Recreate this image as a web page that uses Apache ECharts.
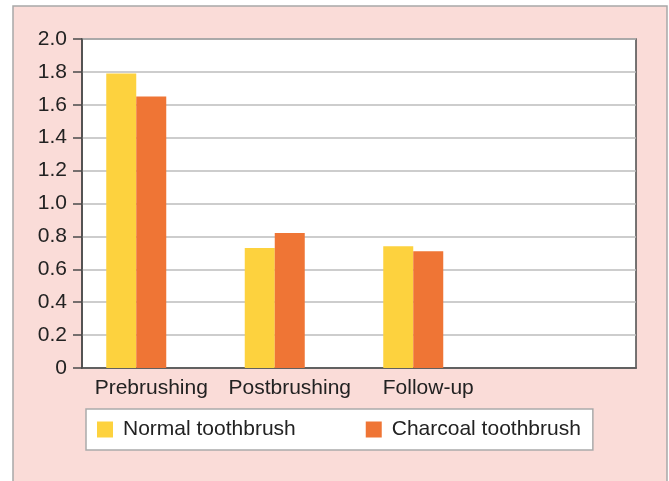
<!DOCTYPE html>
<html>
<head>
<meta charset="utf-8">
<script src="https://cdn.jsdelivr.net/npm/echarts@6/dist/echarts.min.js"></script>
<style>
  html, body { margin: 0; padding: 0; background: #fff; }
  #main { width: 669px; height: 481px; }
</style>
</head>
<body>
<div id="main"></div>
<script>
var categories = ["Prebrushing", "Postbrushing", "Follow-up", ""];
var normalBrush = [1.79, 0.73, 0.74, null];
var charcoalBrush = [1.65, 0.82, 0.71, null];
var spacer = [null, null, null, null]; // empty third slot, like the original spreadsheet chart

var myChart = echarts.init(document.getElementById("main"));
var font = "Liberation Sans, Arial, sans-serif";

var option = {
  backgroundColor: "#fff",
  animation: false,
  graphic: [
    {
      type: "rect",
      z: -10,
      shape: { x: 13, y: 6, width: 654, height: 490 },
      style: { fill: "#fadcd8", stroke: "#a8a8a8", lineWidth: 1.5 }
    }
  ],
  grid: {
    left: 82,
    right: 33,
    top: 39,
    bottom: 113,
    show: true,
    backgroundColor: "#fff",
    borderColor: "#4a4a4a",
    borderWidth: 1.5
  },
  legend: {
    data: ["Normal toothbrush", "Charcoal toothbrush"],
    left: 86,
    top: 409,
    backgroundColor: "#fff",
    borderColor: "#aaa",
    borderWidth: 1.5,
    borderRadius: 0,
    padding: [10, 12, 10, 11],
    itemWidth: 16,
    itemHeight: 16,
    itemGap: 70,
    icon: "rect",
    textStyle: {
      fontFamily: font,
      fontSize: 21,
      color: "#222",
      padding: [0, 0, 0, 5]
    }
  },
  xAxis: {
    type: "category",
    data: categories,
    axisLine: { lineStyle: { color: "#4a4a4a", width: 1.5 } },
    axisTick: { show: false },
    axisLabel: {
      interval: 0,
      fontFamily: font,
      fontSize: 21,
      color: "#222",
      margin: 10
    }
  },
  yAxis: {
    type: "value",
    min: 0,
    max: 2,
    interval: 0.2,
    axisLine: { show: true, lineStyle: { color: "#4a4a4a", width: 1.5 } },
    axisTick: { show: true, inside: false, length: 9, lineStyle: { color: "#4a4a4a", width: 1.5 } },
    splitLine: { lineStyle: { color: "#bdbdbd", width: 1.5 } },
    axisLabel: {
      fontFamily: font,
      fontSize: 21,
      color: "#222",
      margin: 15,
      formatter: function (v) {
        return v === 0 ? "0" : v.toFixed(1);
      }
    }
  },
  series: [
    {
      name: "Normal toothbrush",
      type: "bar",
      data: normalBrush,
      barWidth: 30,
      barGap: "0%",
      itemStyle: { color: "#fdd23e" }
    },
    {
      name: "Charcoal toothbrush",
      type: "bar",
      data: charcoalBrush,
      barWidth: 30,
      barGap: "0%",
      itemStyle: { color: "#ef7535" }
    },
    {
      name: "spacer",
      type: "bar",
      data: spacer,
      barWidth: 30,
      barGap: "0%",
      itemStyle: { color: "transparent" }
    }
  ]
};
myChart.setOption(option);
</script>
</body>
</html>
